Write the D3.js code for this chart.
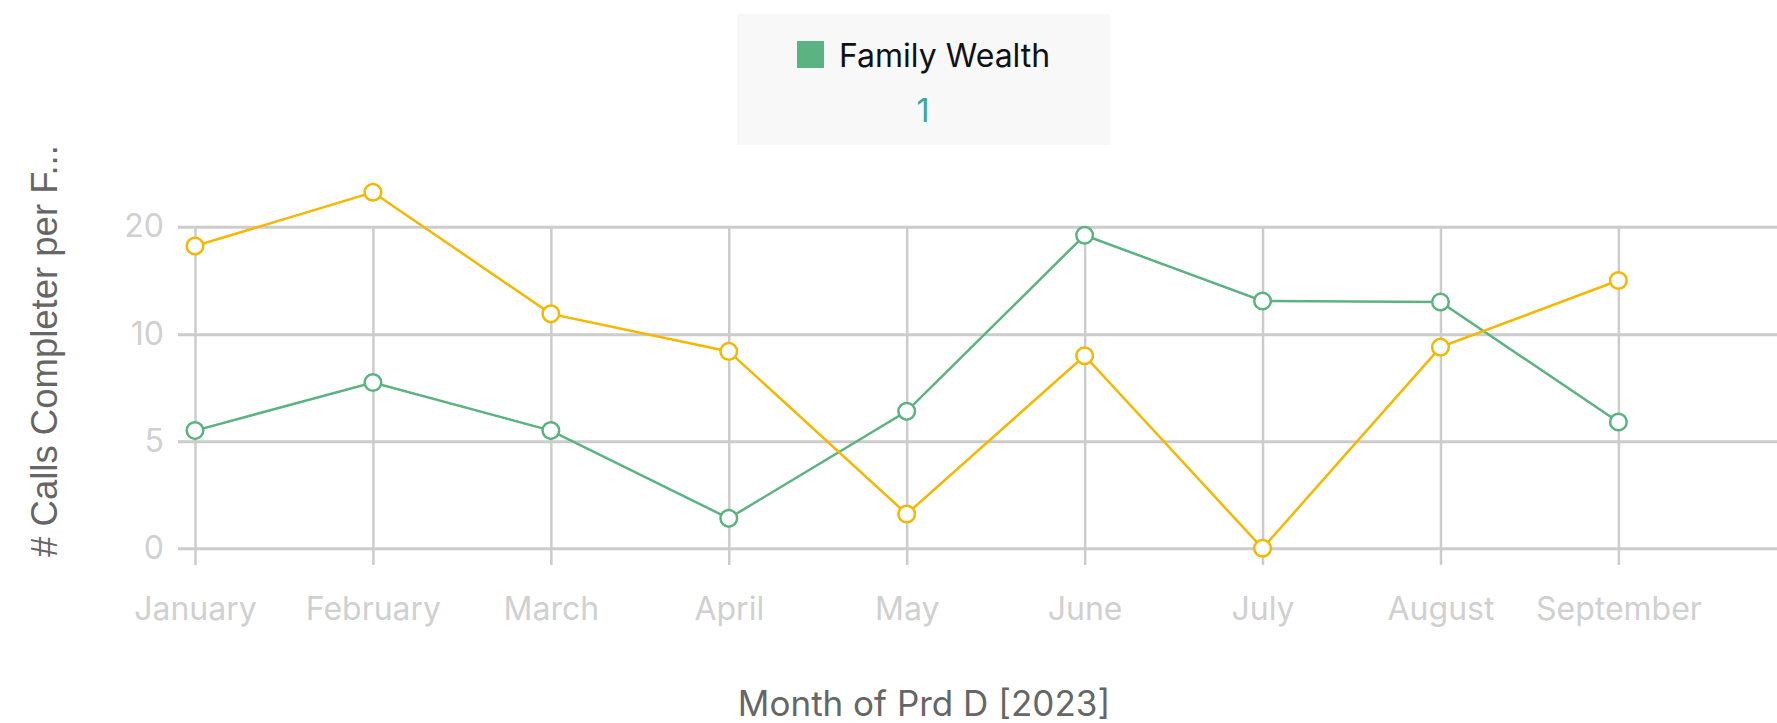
<!DOCTYPE html>
<html lang="en">
<head>
    <meta charset="UTF-8">
    <title>Calls Completer per Month</title>
    <script src="https://cdn.jsdelivr.net/npm/d3@7"></script>
    <style>
        body { margin: 0; background: #fff; }
    </style>
</head>
<body>
<script type="application/javascript">
    const months = ['January', 'February', 'March', 'April', 'May', 'June', 'July', 'August', 'September'];
    const familyWealth = [5.5, 7.75, 5.5, 1.4, 6.4, 19.2, 13.1, 13.0, 5.9];
    const otherSeries = [18.2, 23.2, 11.9, 9.2, 1.6, 9.0, 0, 9.4, 15.0];
    const yTicks = [0, 5, 10, 20];
    const legendLabel = 'Family Wealth';
    const legendValue = '1';

    const w = 1777, h = 723;
    const green = '#5bb381', yellow = '#f5b700', grid = '#cccccc';

    let svg = d3.select('body')
        .append('svg')
        .attr('width', w)
        .attr('height', h);

    // 横向比例尺
    let xScale = d3.scalePoint()
        .domain(months)
        .range([195, 1618.4]);

    // 纵向比例尺（刻度等距：0, 5, 10, 20）
    let yScale = d3.scaleLinear()
        .domain(yTicks)
        .range([548.3, 441.3, 334.3, 226.7]);

    const plotLeft = 178;
    const gridBottom = 565;

    // 竖向网格线 + 月份标签
    let xAxis = svg.append('g')
        .attr('transform', 'translate(0,' + yScale(20) + ')')
        .call(d3.axisBottom(xScale)
            .tickSize(gridBottom - yScale(20))
            .tickPadding(32));
    xAxis.select('.domain').remove();
    xAxis.selectAll('line')
        .attr('stroke', grid)
        .attr('stroke-width', 2.5);
    xAxis.selectAll('text')
        .attr('font-family', 'Inter, sans-serif')
        .attr('font-size', '32px')
        .attr('fill', '#d0d0d0');

    // 横向网格线 + 数值标签
    let yAxis = svg.append('g')
        .attr('transform', 'translate(' + plotLeft + ',0)')
        .call(d3.axisLeft(yScale)
            .tickValues(yTicks)
            .tickFormat(d3.format('d'))
            .tickSize(-(w - plotLeft))
            .tickPadding(14));
    yAxis.select('.domain').remove();
    yAxis.selectAll('line')
        .attr('stroke', grid)
        .attr('stroke-width', 3);
    yAxis.selectAll('text')
        .attr('font-family', 'Inter, sans-serif')
        .attr('font-size', '32px')
        .attr('fill', '#d0d0d0');

    let line = d3.line()
        .x((d, i) => xScale(months[i]))
        .y(d => yScale(d));

    const series = [
        {values: familyWealth, color: green, width: 2.5},
        {values: otherSeries, color: yellow, width: 2.5}
    ];

    series.forEach(s => {
        svg.append('path')
            .datum(s.values)
            .attr('d', line)
            .attr('fill', 'none')
            .attr('stroke', s.color)
            .attr('stroke-width', s.width);
        svg.selectAll(null)
            .data(s.values)
            .enter()
            .append('circle')
            .attr('cx', (d, i) => xScale(months[i]))
            .attr('cy', d => yScale(d))
            .attr('r', 8.3)
            .attr('fill', '#fff')
            .attr('stroke', s.color)
            .attr('stroke-width', 2.5);
    });

    // 图例
    let legend = svg.append('g');
    legend.append('rect')
        .attr('x', 737).attr('y', 14)
        .attr('width', 373).attr('height', 131)
        .attr('fill', '#f8f8f8');
    legend.append('rect')
        .attr('x', 797).attr('y', 41)
        .attr('width', 27).attr('height', 27)
        .attr('fill', green);
    legend.append('text')
        .text(legendLabel)
        .attr('x', 839).attr('y', 67)
        .attr('font-family', 'Inter, sans-serif')
        .attr('font-size', '32px')
        .attr('fill', '#111');
    legend.append('text')
        .text(legendValue)
        .attr('x', 923).attr('y', 122)
        .attr('text-anchor', 'middle')
        .attr('font-family', 'Inter, sans-serif')
        .attr('font-size', '32px')
        .attr('fill', '#36a89c');

    // 坐标轴标题
    svg.append('text')
        .text('Month of Prd D [2023]')
        .attr('x', 924).attr('y', 716)
        .attr('text-anchor', 'middle')
        .attr('font-family', 'Inter, sans-serif')
        .attr('font-size', '35px')
        .attr('fill', '#666');

    svg.append('text')
        .text('# Calls Completer per F...')
        .attr('transform', 'translate(57,351) rotate(-90)')
        .attr('text-anchor', 'middle')
        .attr('font-family', '"Liberation Sans", Arial, sans-serif')
        .attr('font-size', '36.5px')
        .attr('fill', '#666');
</script>
</body>
</html>
